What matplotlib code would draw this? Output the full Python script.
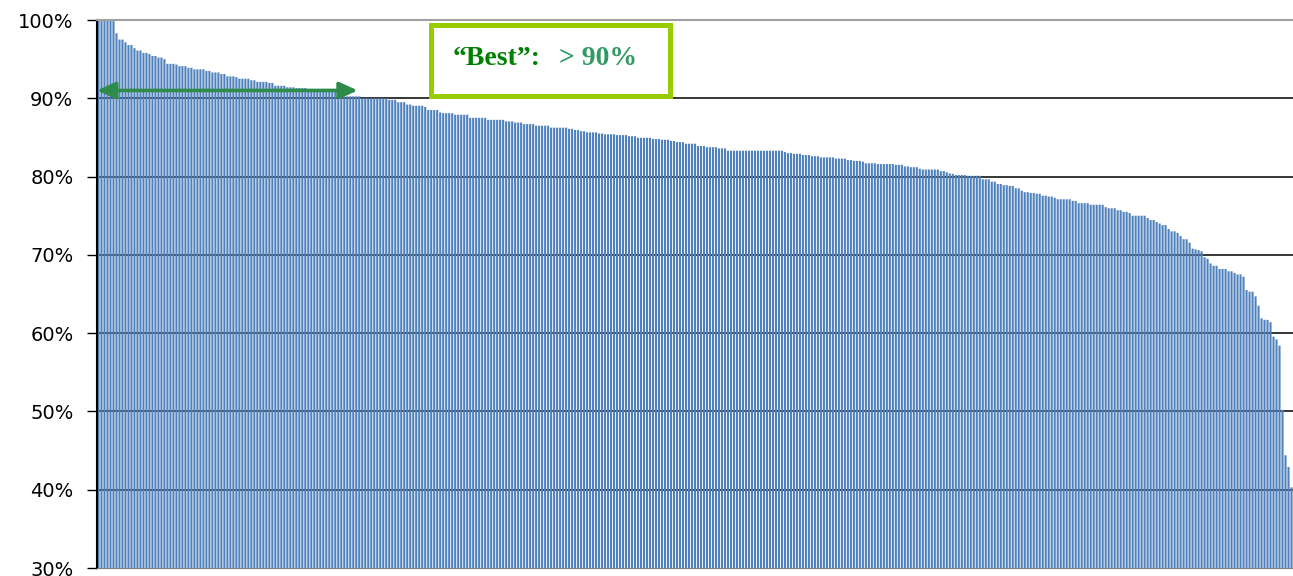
import numpy as np
import matplotlib
matplotlib.use("Agg")
import matplotlib.pyplot as plt
from matplotlib.patches import Rectangle
from matplotlib.ticker import PercentFormatter

# bar heights (sorted, run-length: level, how many bars)
levels = [100.0, 98.3, 97.5, 97.15, 96.8, 96.4, 96.1, 95.8, 95.65, 95.4,
          95.2, 95.0, 94.4, 94.3, 94.1, 93.9, 93.7, 93.5, 93.3, 93.1,
          92.8, 92.7, 92.5, 92.3, 92.1, 91.95, 91.6, 91.4, 91.3, 91.1,
          90.25, 90.0, 89.8, 89.5, 89.2, 89.05, 88.9, 88.5, 88.2, 88.1,
          87.9, 87.5, 87.25, 87.05, 86.9, 86.7, 86.5, 86.25, 86.1, 85.95,
          85.8, 85.65, 85.5, 85.4, 85.3, 85.15, 84.95, 84.8, 84.7, 84.55,
          84.4, 84.2, 83.9, 83.75, 83.6, 83.3, 83.15, 83.0, 82.9, 82.75,
          82.6, 82.45, 82.3, 82.1, 82.0, 81.9, 81.7, 81.6, 81.5, 81.3,
          81.2, 81.0, 80.9, 80.7, 80.55, 80.4, 80.35, 80.2, 80.1, 79.65,
          79.35, 79.05, 78.9, 78.8, 78.5, 78.2, 78.0, 77.9, 77.8, 77.55,
          77.45, 77.3, 77.1, 76.9, 76.6, 76.4, 76.1, 75.95, 75.7, 75.5,
          75.35, 75.0, 74.7, 74.45, 74.2, 74.0, 73.8, 73.3, 73.0, 72.8,
          72.4, 72.0, 71.55, 70.8, 70.7, 70.6, 70.45, 69.7, 69.5, 68.9,
          68.6, 68.2, 67.9, 67.7, 67.5, 67.2, 65.5, 65.3, 64.7, 63.5,
          61.9, 61.7, 61.4, 59.55, 59.2, 58.4, 50.2, 44.4, 42.9, 40.3]
counts = [6, 1, 2, 1, 2, 1, 2, 2, 1, 2,
          2, 1, 3, 1, 3, 2, 4, 2, 3, 2,
          3, 1, 4, 2, 4, 2, 4, 3, 4, 12,
          6, 9, 3, 3, 2, 4, 1, 4, 1, 4,
          5, 6, 6, 3, 3, 4, 5, 6, 2, 2,
          2, 4, 2, 4, 4, 3, 5, 3, 3, 2,
          3, 4, 3, 4, 3, 19, 1, 2, 3, 3,
          3, 5, 4, 2, 3, 1, 4, 6, 3, 2,
          3, 1, 6, 2, 1, 1, 1, 4, 5, 3,
          2, 2, 2, 2, 2, 1, 2, 2, 2, 2,
          2, 1, 5, 2, 4, 5, 1, 3, 2, 2,
          1, 5, 1, 2, 1, 1, 2, 1, 2, 1,
          1, 2, 1, 1, 1, 1, 1, 1, 1, 1,
          2, 3, 2, 1, 2, 1, 1, 2, 1, 1,
          1, 2, 1, 1, 1, 1, 1, 1, 1, 1]
assert len(levels) == len(counts)
values = np.repeat(levels, counts)
best_level = 91.0   # where the "best" arrow sits
yticks = [30, 40, 50, 60, 70, 80, 90, 100]

W, H = 1293, 576
fig = plt.figure(figsize=(W / 100, H / 100), dpi=100)
ax = fig.add_axes([97 / W, 8 / H, 1196 / W, 548 / H])

x = np.arange(len(values))
ax.bar(x, values - 30, bottom=30, width=0.7, color="#4F81BD",
       linewidth=0, snap=False, zorder=2)

ax.set_xlim(-0.5, len(values) - 0.5)
ax.set_ylim(30, 100)
ax.set_yticks(yticks)
ax.yaxis.set_major_formatter(PercentFormatter(decimals=0))
ax.set_xticks([])
ax.tick_params(axis="y", length=7, width=1, direction="out", pad=10,
               labelsize=14)
for lab in ax.get_yticklabels():
    lab.set_family("DejaVu Sans")

for yv in yticks[1:-1]:
    ax.axhline(yv, color="black", linewidth=1.1, zorder=1)

ax.spines["right"].set_visible(False)
ax.spines["top"].set_color("#A0A0A0")
ax.spines["top"].set_linewidth(1.5)
ax.spines["bottom"].set_color("#7F7F7F")
ax.spines["left"].set_color("black")
ax.spines["left"].set_linewidth(1.5)

# double-headed arrow marking the "best" group
ax.annotate("", xy=(0.0, best_level), xytext=(0.218, best_level),
            xycoords=("axes fraction", "data"),
            textcoords=("axes fraction", "data"),
            arrowprops=dict(arrowstyle="<|-|>,head_length=1.1,head_width=0.5",
                            color="#2E8B4A", lw=2.6, shrinkA=0, shrinkB=0),
            zorder=5)

# label box
fig.patches.append(Rectangle((430.5 / W, 1 - 95.5 / H), 239 / W, 71 / H,
                             transform=fig.transFigure, fill=True,
                             facecolor="white", edgecolor="#99CC00",
                             linewidth=3.6, zorder=6))
fig.text(453 / W, 1 - 65 / H, "\u201cBest\u201d:", color="#008000",
         family="Liberation Serif", weight="bold", fontsize=20,
         va="baseline", ha="left", zorder=7)
fig.text(559 / W, 1 - 65 / H, "> 90%", color="#339966",
         family="Liberation Serif", weight="bold", fontsize=20,
         va="baseline", ha="left", zorder=7)

fig.savefig("out.png", dpi=100)
